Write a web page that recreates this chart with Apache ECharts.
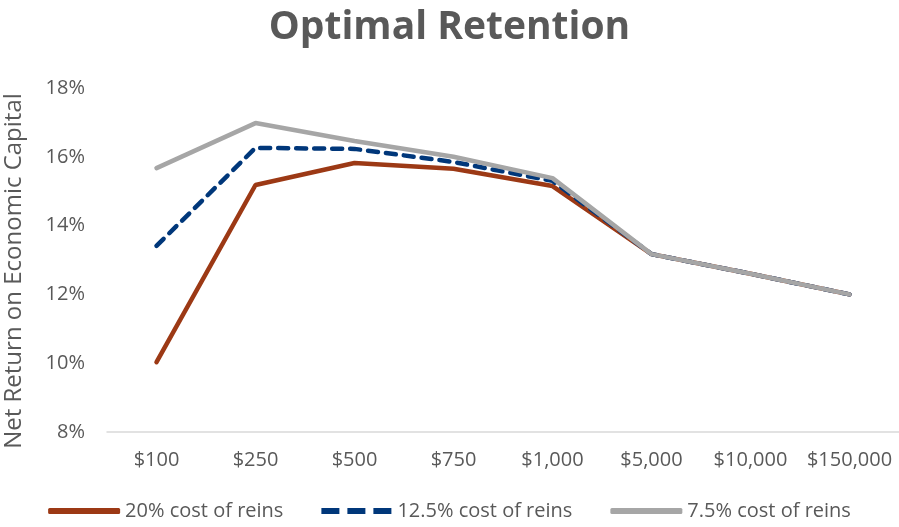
<!DOCTYPE html>
<html>
<head>
<meta charset="utf-8">
<script src="https://cdn.jsdelivr.net/npm/echarts@6/dist/echarts.min.js"></script>
<style>
  html, body { margin: 0; padding: 0; background: #fff; }
  #chart { width: 899px; height: 527px; }
</style>
</head>
<body>
<div id="chart"></div>
<script>
// retention levels
var categories = ['$100', '$250', '$500', '$750', '$1,000', '$5,000', '$10,000', '$150,000'];
// net return on economic capital, %
var cost20 = [10.03, 15.18, 15.82, 15.65, 15.15, 13.17, 12.6, 12.0];
var cost125 = [13.41, 16.26, 16.23, 15.85, 15.3, 13.17, 12.6, 12.0];
var cost75 = [15.67, 16.98, 16.46, 16.0, 15.38, 13.17, 12.6, 12.0];

var font = '"Open Sans", sans-serif';
var textColor = '#595959';

var chart = echarts.init(document.getElementById('chart'));

function lineSeries(name, data, color, type) {
    return {
        name: name,
        type: 'line',
        data: data,
        symbol: 'none',
        lineStyle: { color: color, width: 4.5, type: type, cap: 'round' },
        itemStyle: { color: color },
        animation: false
    };
}

// dashed legend key drawn as three short bars
var dashIcon = 'path://M0,0h18v6h-18z M26,0h18v6h-18z M52,0h18v6h-18z';

var option = {
    backgroundColor: '#fff',
    title: {
        text: 'Optimal Retention',
        left: 'center',
        top: 3,
        textStyle: { fontFamily: font, fontSize: 39, fontWeight: 'bold', color: textColor }
    },
    grid: { left: 107, right: 0, top: 88, bottom: 95, outerBoundsMode: 'none' },
    legend: {
        bottom: 1,
        left: 'center',
        itemWidth: 72,
        itemHeight: 6,
        itemGap: 38,
        textStyle: { fontFamily: font, fontSize: 20, color: textColor },
        data: [
            { name: '20% cost of reins', icon: 'roundRect' },
            { name: '12.5% cost of reins', icon: dashIcon },
            { name: '7.5% cost of reins', icon: 'roundRect' }
        ]
    },
    xAxis: {
        type: 'category',
        data: categories,
        boundaryGap: true,
        axisLine: { lineStyle: { color: '#d9d9d9', width: 1.5 } },
        axisTick: { show: false },
        axisLabel: { fontFamily: font, fontSize: 20, color: textColor, margin: 18, interval: 0 }
    },
    yAxis: {
        type: 'value',
        min: 8,
        max: 18,
        interval: 2,
        name: 'Net Return on Economic Capital',
        nameLocation: 'middle',
        nameGap: 81,
        nameTextStyle: { fontFamily: font, fontSize: 24, color: textColor, padding: [0, 22, 0, 0] },
        axisLine: { show: false },
        axisTick: { show: false },
        splitLine: { show: false },
        axisLabel: {
            fontFamily: font, fontSize: 20, color: textColor, margin: 22,
            formatter: '{value}%'
        }
    },
    series: [
        lineSeries('20% cost of reins', cost20, '#9c3915', 'solid'),
        lineSeries('12.5% cost of reins', cost125, '#00377a', [10, 8]),
        lineSeries('7.5% cost of reins', cost75, '#a6a6a6', 'solid')
    ]
};

chart.setOption(option);
</script>
</body>
</html>
